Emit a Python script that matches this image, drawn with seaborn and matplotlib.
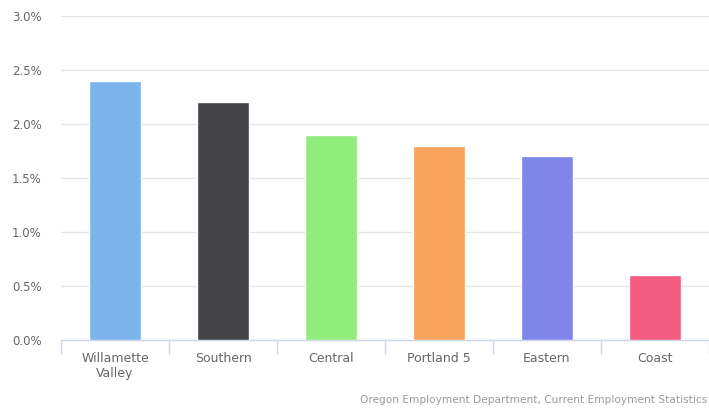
import matplotlib
matplotlib.use('Agg')
import matplotlib.pyplot as plt
import seaborn as sns
import pandas as pd
from matplotlib.ticker import FuncFormatter, FixedLocator

regions = ['Willamette\nValley', 'Southern', 'Central', 'Portland 5', 'Eastern', 'Coast']
growth = [2.4, 2.2, 1.9, 1.8, 1.7, 0.6]
colors = ['#7cb5ec', '#434348', '#90ed7d', '#f7a35c', '#8085e9', '#f15c80']

data = pd.DataFrame({'region': regions, 'growth': growth})

sns.set_style('white')
plt.rcParams['font.family'] = ['DejaVu Sans']

fig = plt.figure(figsize=(7.09, 4.08), dpi=100)
ax = fig.add_axes([61 / 709, 68 / 408, 648 / 709, 324 / 408])

sns.barplot(data=data, x='region', y='growth', hue='region', palette=colors,
            width=0.48, legend=False, ax=ax, zorder=3, saturation=1)

ax.set_xlim(-0.5, 5.5)
ax.set_ylim(0, 3.0)
ax.set_yticks([0, 0.5, 1.0, 1.5, 2.0, 2.5, 3.0])
ax.yaxis.set_major_formatter(FuncFormatter(lambda v, p: f'{v:.1f}%'))
ax.grid(axis='y', color='#e6e6e6', linewidth=1, zorder=0)
ax.set_xlabel('')
ax.set_ylabel('')

for s in ['top', 'right', 'left']:
    ax.spines[s].set_visible(False)
ax.spines['bottom'].set_color('#ccd6eb')
ax.spines['bottom'].set_linewidth(1)

ax.tick_params(axis='x', which='major', bottom=True, length=0, pad=9, labelsize=9, labelcolor='#666666')
ax.xaxis.set_minor_locator(FixedLocator([i - 0.5 for i in range(len(regions) + 1)]))
ax.tick_params(axis='x', which='minor', bottom=True, length=10, color='#ccd6eb', width=1)
ax.tick_params(axis='y', length=0, pad=14, labelsize=8.5, labelcolor='#666666')

fig.text(0.998, 0.008, 'Oregon Employment Department, Current Employment Statistics',
         ha='right', va='bottom', fontsize=7.6, color='#999999')

fig.savefig('out.png', dpi=100)
